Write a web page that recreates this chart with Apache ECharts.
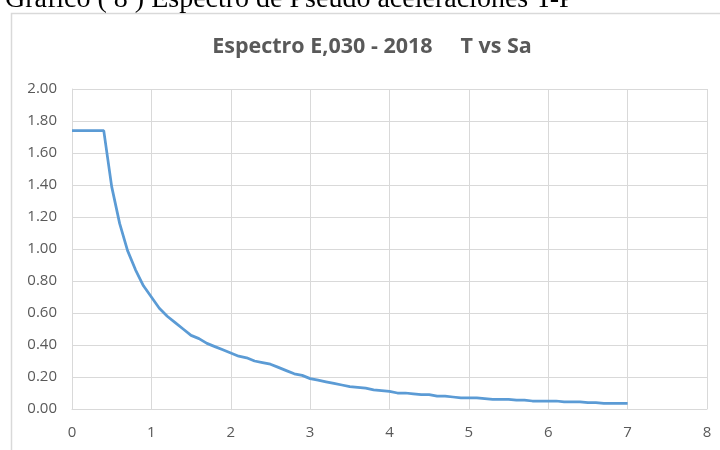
<!DOCTYPE html>
<html>
<head>
<meta charset="utf-8">
<script src="https://cdn.jsdelivr.net/npm/echarts@6/dist/echarts.min.js"></script>
<style>
  html, body { margin: 0; padding: 0; background: #ffffff; }
  #chart { width: 720px; height: 450px; }
</style>
</head>
<body>
<div id="chart"></div>
<script>
// Period T (s)
const periods = [
  0.0, 0.1, 0.2, 0.3, 0.4, 0.5, 0.6, 0.7, 0.8, 0.9,
  1.0, 1.1, 1.2, 1.3, 1.4, 1.5, 1.6, 1.7, 1.8, 1.9,
  2.0, 2.1, 2.2, 2.3, 2.4, 2.5, 2.6, 2.7, 2.8, 2.9,
  3.0, 3.1, 3.2, 3.3, 3.4, 3.5, 3.6, 3.7, 3.8, 3.9,
  4.0, 4.1, 4.2, 4.3, 4.4, 4.5, 4.6, 4.7, 4.8, 4.9,
  5.0, 5.1, 5.2, 5.3, 5.4, 5.5, 5.6, 5.7, 5.8, 5.9,
  6.0, 6.1, 6.2, 6.3, 6.4, 6.5, 6.6, 6.7, 6.8, 6.9,
  7.0
];
// Spectral pseudo-acceleration Sa
const saValues = [
  1.74, 1.74, 1.74, 1.74, 1.74, 1.39, 1.16, 0.99, 0.87, 0.77,
  0.70, 0.63, 0.58, 0.54, 0.50, 0.46, 0.44, 0.41, 0.39, 0.37,
  0.35, 0.33, 0.32, 0.30, 0.29, 0.28, 0.26, 0.24, 0.22, 0.21,
  0.19, 0.18, 0.17, 0.16, 0.15, 0.14, 0.135, 0.13, 0.12, 0.115,
  0.11, 0.10, 0.10, 0.095, 0.09, 0.09, 0.08, 0.08, 0.075, 0.07,
  0.07, 0.07, 0.065, 0.06, 0.06, 0.06, 0.055, 0.055, 0.05, 0.05,
  0.05, 0.05, 0.045, 0.045, 0.045, 0.04, 0.04, 0.035, 0.035, 0.035,
  0.035
];
const xTicks = { min: 0, max: 8, step: 1 };
const yTicks = { min: 0, max: 2, step: 0.2 };

const captionText = 'Gráfico ( 8 ) Espectro de Pseudo aceleraciones T-P';
const chartTitle = 'Espectro E,030 - 2018     T vs Sa';

const points = periods.map((t, i) => [t, saValues[i]]);

const chart = echarts.init(document.getElementById('chart'), null, { renderer: 'canvas' });
const labelFont = '"Open Sans", "Liberation Sans", sans-serif';

chart.setOption({
  animation: false,
  backgroundColor: '#ffffff',
  graphic: [
    {
      type: 'text',
      x: 5, y: 14,
      z: 10,
      style: {
        text: captionText,
        font: '28px "Liberation Serif", "Times New Roman", serif',
        fill: '#000000',
        textAlign: 'left',
        verticalAlign: 'bottom'
      }
    },
    {
      type: 'rect',
      z: 0,
      shape: { x: 11.5, y: 13.5, width: 740, height: 460 },
      style: { fill: 'transparent', stroke: '#d9d9d9', lineWidth: 1.5 }
    },
    {
      type: 'text',
      x: 372, y: 47,
      z: 10,
      style: {
        text: chartTitle,
        font: 'bold 21.5px "Open Sans", Lato, sans-serif',
        fill: '#595959',
        textAlign: 'center',
        verticalAlign: 'middle'
      }
    }
  ],
  grid: { left: 72, right: 13, top: 89, bottom: 41, containLabel: false },
  xAxis: {
    type: 'value',
    min: xTicks.min, max: xTicks.max, interval: xTicks.step,
    axisLine: { show: true, lineStyle: { color: '#d9d9d9', width: 1 } },
    axisTick: { show: false },
    splitLine: { show: true, lineStyle: { color: '#d9d9d9', width: 1 } },
    axisLabel: { color: '#595959', fontSize: 15, fontFamily: labelFont, margin: 16 }
  },
  yAxis: {
    type: 'value',
    min: yTicks.min, max: yTicks.max, interval: yTicks.step,
    axisLine: { show: true, lineStyle: { color: '#d9d9d9', width: 1 } },
    axisTick: { show: false },
    splitLine: { show: true, lineStyle: { color: '#d9d9d9', width: 1 } },
    axisLabel: {
      color: '#595959', fontSize: 15, fontFamily: labelFont, margin: 15,
      formatter: v => v.toFixed(2)
    }
  },
  series: [{
    type: 'line',
    data: points,
    showSymbol: false,
    smooth: false,
    lineStyle: { color: '#5b9bd5', width: 2.75 },
    itemStyle: { color: '#5b9bd5' }
  }]
});
</script>
</body>
</html>
